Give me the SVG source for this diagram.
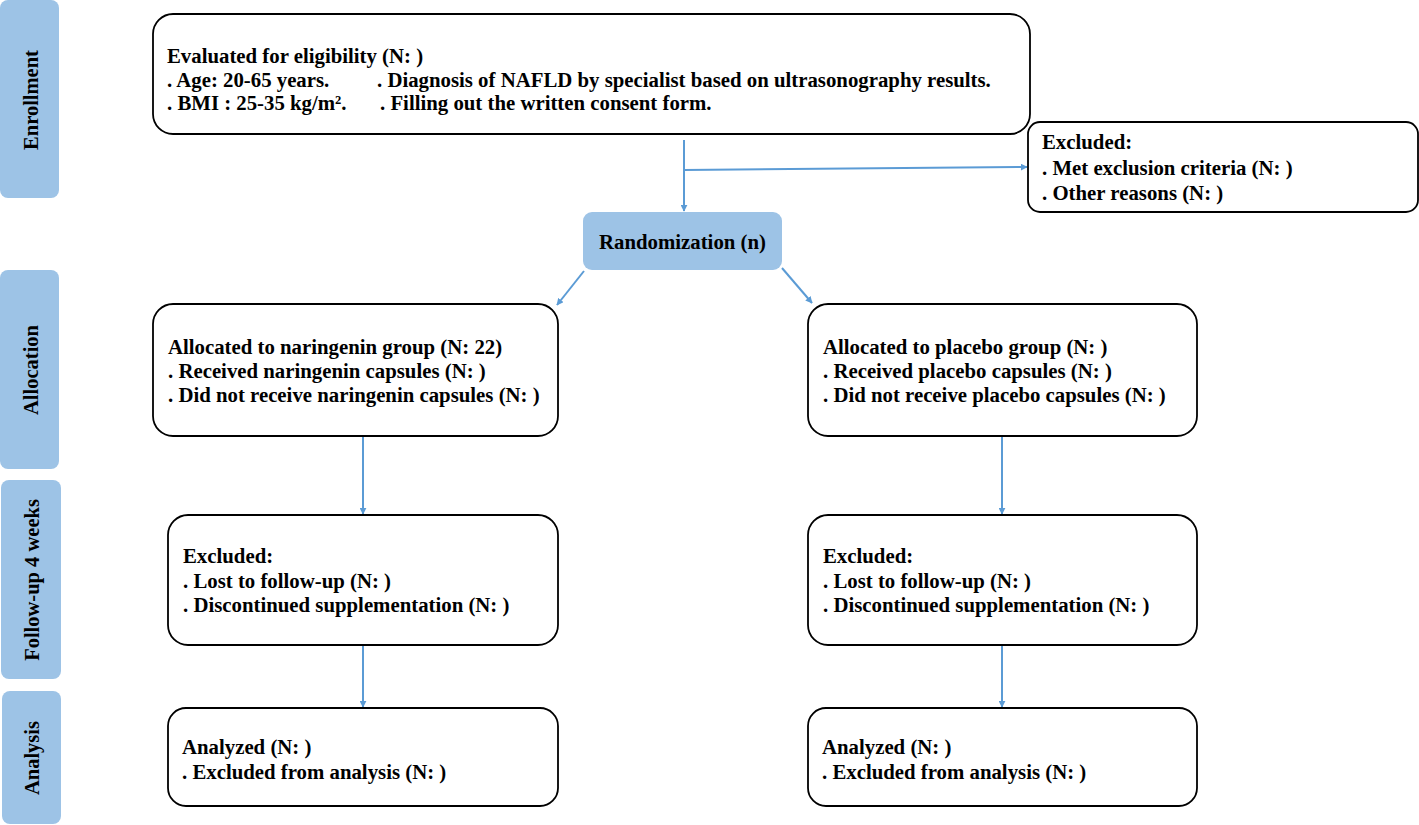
<svg xmlns="http://www.w3.org/2000/svg" width="1419" height="825" viewBox="0 0 1419 825">
<style>
.tab{fill:#9dc3e6;}
.box{fill:#ffffff;stroke:#000000;stroke-width:1.8;}
.t{font-family:"Liberation Serif","Times New Roman",serif;font-weight:bold;font-size:20.8px;fill:#000000;}
.lbl{font-family:"Liberation Serif","Times New Roman",serif;font-weight:bold;font-size:20.5px;fill:#000000;text-anchor:middle;}
.c{fill:none;stroke:#5b9bd5;stroke-width:2;marker-end:url(#ah);}
</style>
<defs>
<marker id="ah" viewBox="0 0 10 10" refX="9" refY="5" markerWidth="7" markerHeight="7" orient="auto" markerUnits="userSpaceOnUse">
<path d="M0,0 L10,5 L0,10 z" fill="#5b9bd5"/>
</marker>
</defs>
<rect width="1419" height="825" fill="#ffffff"/>

<g id="tab-enrollment">
<rect class="tab" x="0" y="0" width="59" height="198" rx="8"/>
<text class="lbl" transform="translate(38,100) rotate(-90)">Enrollment</text>
</g>
<g id="tab-allocation">
<rect class="tab" x="0" y="270" width="59" height="199" rx="8"/>
<text class="lbl" transform="translate(38,370) rotate(-90)">Allocation</text>
</g>
<g id="tab-followup">
<rect class="tab" x="1" y="480" width="60" height="199" rx="8"/>
<text class="lbl" transform="translate(39,580) rotate(-90)">Follow-up 4 weeks</text>
</g>
<g id="tab-analysis">
<rect class="tab" x="2" y="691" width="59" height="133" rx="8"/>
<text class="lbl" transform="translate(39,758) rotate(-90)">Analysis</text>
</g>

<g id="connectors">
<line class="c" x1="684" y1="140" x2="684" y2="211"/>
<line class="c" x1="684" y1="170" x2="1027" y2="167"/>
<line class="c" x1="584" y1="271" x2="557" y2="305"/>
<line class="c" x1="782" y1="268" x2="812" y2="303"/>
<line class="c" x1="363" y1="436" x2="363" y2="514"/>
<line class="c" x1="363" y1="646" x2="363" y2="707"/>
<line class="c" x1="1002" y1="436" x2="1002" y2="514"/>
<line class="c" x1="1002" y1="646" x2="1002" y2="707"/>
</g>

<g id="eligibility">
<rect class="box" x="153" y="14" width="877" height="120" rx="20"/>
<text class="t" x="167" y="63">Evaluated for eligibility (N: )</text>
<text class="t" x="167" y="87">. Age: 20-65 years.</text>
<text class="t" x="377" y="87">. Diagnosis of NAFLD by specialist based on ultrasonography results.</text>
<text class="t" x="167" y="110">. BMI : 25-35 kg/m².</text>
<text class="t" x="380" y="110">. Filling out the written consent form.</text>
</g>

<g id="excluded-enroll">
<rect class="box" x="1028" y="122" width="390" height="90" rx="12"/>
<text class="t" x="1042" y="149">Excluded:</text>
<text class="t" x="1042" y="175">. Met exclusion criteria (N: )</text>
<text class="t" x="1042" y="200">. Other reasons (N: )</text>
</g>

<g id="randomization">
<rect class="tab" x="583" y="212" width="199" height="58" rx="9"/>
<text class="t" x="682.5" y="249" text-anchor="middle">Randomization (n)</text>
</g>

<g id="alloc-naringenin">
<rect class="box" x="153" y="304" width="405" height="132" rx="20"/>
<text class="t" x="168" y="354">Allocated to naringenin group (N: 22)</text>
<text class="t" x="168" y="378">. Received naringenin capsules (N: )</text>
<text class="t" x="168" y="402">. Did not receive naringenin capsules (N: )</text>
</g>

<g id="alloc-placebo">
<rect class="box" x="808" y="304" width="389" height="132" rx="20"/>
<text class="t" x="823" y="354">Allocated to placebo group (N: )</text>
<text class="t" x="823" y="378">. Received placebo capsules (N: )</text>
<text class="t" x="823" y="402">. Did not receive placebo capsules (N: )</text>
</g>

<g id="followup-naringenin">
<rect class="box" x="168" y="515" width="390" height="130" rx="20"/>
<text class="t" x="183" y="563">Excluded:</text>
<text class="t" x="183" y="588">. Lost to follow-up (N: )</text>
<text class="t" x="183" y="612">. Discontinued supplementation (N: )</text>
</g>

<g id="followup-placebo">
<rect class="box" x="808" y="515" width="389" height="130" rx="20"/>
<text class="t" x="823" y="563">Excluded:</text>
<text class="t" x="823" y="588">. Lost to follow-up (N: )</text>
<text class="t" x="823" y="612">. Discontinued supplementation (N: )</text>
</g>

<g id="analysis-naringenin">
<rect class="box" x="168" y="708" width="390" height="98" rx="18"/>
<text class="t" x="182" y="754">Analyzed (N: )</text>
<text class="t" x="182" y="779">. Excluded from analysis (N: )</text>
</g>

<g id="analysis-placebo">
<rect class="box" x="808" y="708" width="389" height="98" rx="18"/>
<text class="t" x="822" y="754">Analyzed (N: )</text>
<text class="t" x="822" y="779">. Excluded from analysis (N: )</text>
</g>
</svg>
